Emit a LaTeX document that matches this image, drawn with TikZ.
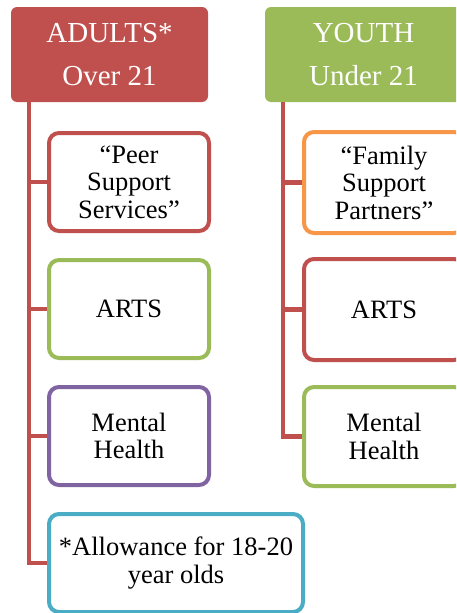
\documentclass[tikz,border=0pt]{standalone}
\usepackage{fontspec}
\setmainfont{Liberation Serif}
\definecolor{cred}{HTML}{C0504D}
\definecolor{cgreen}{HTML}{9BBB59}
\definecolor{cpurple}{HTML}{8064A2}
\definecolor{ccyan}{HTML}{4BACC6}
\definecolor{corange}{HTML}{F79646}
\begin{document}
\begin{tikzpicture}[x=1pt,y=-1pt,
  header/.style={fill=#1,rounded corners=6pt,minimum width=197pt,minimum height=95pt,inner sep=0pt,text=white,align=center,font=\fontsize{29}{43}\selectfont},
  child/.style={draw=#1,line width=4pt,rounded corners=10pt,fill=white,minimum width=160pt,minimum height=98pt,inner sep=0pt,align=center,font=\fontsize{26.5}{27.5}\selectfont},
  conn/.style={draw=cred,line width=4.5pt}]
\useasboundingbox (0,0) rectangle (456,613);
\clip (0,0) rectangle (456,613);
% headers
\node[header=cred] (adults) at (109.5,54.5) {ADULTS*\\Over 21};
\node[header=cgreen] (youth) at (363.5,54.5) {YOUTH\\Under 21};
% left children
\node[child=cred] (peer) at (129,182) {“Peer\\Support\\Services”};
\node[child=cgreen] (artsL) at (129,309) {ARTS};
\node[child=cpurple] (mentalL) at (129,436) {Mental\\Health};
\node[child=ccyan,minimum width=254pt] (allow) at (176,563) {*Allowance for 18-20\\year olds};
% right children
\node[child=corange,minimum height=101pt] (family) at (384,182.5) {“Family\\Support\\Partners”};
\node[child=cred,minimum height=101pt] (artsR) at (384,309.5) {ARTS};
\node[child=cgreen,minimum height=99pt] (mentalR) at (384,436.5) {Mental\\Health};
% connectors
\path (adults.south west) ++(18,0) coordinate (lt);
\path (youth.south west) ++(18,0) coordinate (rt);
\draw[conn] (lt) |- (peer.west);
\draw[conn] (lt) |- (artsL.west);
\draw[conn] (lt) |- (mentalL.west);
\draw[conn] (lt) |- (allow.west);
\draw[conn] (rt) |- (family.west);
\draw[conn] (rt) |- (artsR.west);
\draw[conn] (rt) |- (mentalR.west);
\end{tikzpicture}
\end{document}
